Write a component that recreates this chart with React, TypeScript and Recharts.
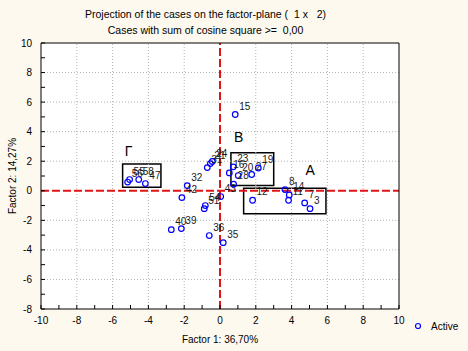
import {
  ScatterChart,
  Scatter,
  XAxis,
  YAxis,
  CartesianGrid,
  ReferenceLine,
  ReferenceArea,
  ReferenceDot,
} from "recharts";

// case numbers and their coordinates on the factor plane
const caseLabels = [
  "15", "24", "21", "31", "32", "42", "43", "54", "51", "40", "39", "36", "35",
  "56", "55", "58", "47",
  "23", "16", "20", "28", "27", "19",
  "12", "8", "14", "11", "7", "3",
];
const factor1 = [
  0.85, -0.43, -0.54, -0.71, -1.83, -2.13, 0.04, -0.82, -0.88, -2.72, -2.16, -0.6, 0.18,
  -5.16, -5.05, -4.54, -4.17,
  0.74, 0.52, 1.02, 0.76, 1.77, 2.14,
  1.82, 3.63, 3.87, 3.83, 4.73, 5.03,
];
const factor2 = [
  5.16, 1.98, 1.84, 1.57, 0.35, -0.46, -0.39, -1.0, -1.21, -2.63, -2.56, -3.03, -3.51,
  0.59, 0.76, 0.76, 0.49,
  1.62, 1.21, 1.03, 0.45, 1.1, 1.54,
  -0.64, 0.08, -0.28, -0.64, -0.82, -1.21,
];

// groups drawn as boxes: name, x range, y range, where the letter sits
const groupNames = ["Γ", "B", "A"];
const groupX = [[-5.44, -3.3], [0.61, 3.0], [1.32, 5.92]];
const groupY = [[0.24, 1.82], [0.35, 2.57], [-1.56, 0.17]];
const groupLetterAt = [[-5.11, 2.67], [1.04, 3.62], [5.04, 1.43]];

const xTicks = [-10, -9, -8, -7, -6, -5, -4, -3, -2, -1, 0, 1, 2, 3, 4, 5, 6, 7, 8, 9, 10];
const yTicks = [-8, -7, -6, -5, -4, -3, -2, -1, 0, 1, 2, 3, 4, 5, 6, 7, 8, 9, 10];
const xGrid = [-8, -6, -4, -2, 2, 4, 6, 8];
const yGrid = [-6, -4, -2, 2, 4, 6, 8];

const cases = caseLabels.map((name, i) => ({ name, x: factor1[i], y: factor2[i] }));

const FONT = '"Liberation Sans", Arial, sans-serif';
const BLUE = "#0000ff";

const CaseMark = (props: any) => {
  const { cx, cy, payload } = props;
  return (
    <g>
      <circle cx={cx} cy={cy} r={2.8} fill="none" stroke={BLUE} strokeWidth={1.2} />
      <text x={cx + 4} y={cy - 5} fontSize={10} fontFamily={FONT} fill="#1a1a1a">
        {payload.name}
      </text>
    </g>
  );
};

const evenOnly = (v: number) => (v % 2 === 0 ? String(v) : "");

export default function App() {
  return (
    <div
      style={{
        position: "absolute",
        left: 0,
        top: 0,
        width: 468,
        height: 351,
        background: "#fef9ee",
        fontFamily: FONT,
      }}
    >
      <div
        style={{
          position: "absolute",
          left: 0,
          width: 411,
          top: 6,
          textAlign: "center",
          fontSize: 10.5,
          lineHeight: "16px",
          whiteSpace: "pre",
        }}
      >
        {"Projection of the cases on the factor-plane (  1 x   2)\nCases with sum of cosine square >=  0,00"}
      </div>
      <ScatterChart
        width={468}
        height={351}
        margin={{ top: 42, right: 68, bottom: 12, left: 8 }}
      >
        <CartesianGrid fill="#ffffff" horizontal={false} vertical={false} />
        {xGrid.map((v) => (
          <ReferenceLine key={`gx${v}`} x={v} stroke="#b4b4b4" strokeDasharray="1 2" />
        ))}
        {yGrid.map((v) => (
          <ReferenceLine key={`gy${v}`} y={v} stroke="#b4b4b4" strokeDasharray="1 2" />
        ))}
        <XAxis
          type="number"
          dataKey="x"
          domain={[-10, 10]}
          ticks={xTicks}
          interval={0}
          tickFormatter={evenOnly}
          tickSize={-4}
          tickMargin={12}
          height={30}
          stroke="#000"
          tick={{ fill: "#000", fontSize: 10, fontFamily: FONT }}
          label={{
            value: "Factor 1: 36,70%",
            position: "insideBottom",
            offset: -4,
            fill: "#000",
            fontSize: 10,
            fontFamily: FONT,
          }}
        />
        <XAxis
          xAxisId="top"
          orientation="top"
          type="number"
          domain={[-10, 10]}
          ticks={xTicks}
          interval={0}
          tick={false}
          tickSize={-4}
          height={1}
          stroke="#000"
        />
        <YAxis
          type="number"
          dataKey="y"
          domain={[-8, 10]}
          ticks={yTicks}
          interval={0}
          tickFormatter={evenOnly}
          tickSize={-4}
          tickMargin={13}
          width={33}
          stroke="#000"
          tick={{ fill: "#000", fontSize: 10, fontFamily: FONT }}
          label={{
            value: "Factor 2: 14,27%",
            angle: -90,
            position: "insideLeft",
            offset: 4,
            fill: "#000",
            fontSize: 10,
            fontFamily: FONT,
            style: { textAnchor: "middle" },
          }}
        />
        <YAxis
          yAxisId="right"
          orientation="right"
          type="number"
          domain={[-8, 10]}
          ticks={yTicks}
          interval={0}
          tick={false}
          tickSize={-4}
          width={1}
          stroke="#000"
        />
        <ReferenceLine x={0} stroke="#e01515" strokeWidth={2} strokeDasharray="8 3" />
        <ReferenceLine y={0} stroke="#e01515" strokeWidth={2} strokeDasharray="8 3" />
        {groupNames.map((g, i) => (
          <ReferenceArea
            key={`box-${g}`}
            x1={groupX[i][0]}
            x2={groupX[i][1]}
            y1={groupY[i][0]}
            y2={groupY[i][1]}
            fill="none"
            fillOpacity={0}
            stroke="#000"
            strokeWidth={1.5}
          />
        ))}
        {groupNames.map((g, i) => (
          <ReferenceDot
            key={`letter-${g}`}
            x={groupLetterAt[i][0]}
            y={groupLetterAt[i][1]}
            r={0}
            stroke="none"
            label={{ value: g, position: "center", fontSize: 14, fill: "#000", fontFamily: FONT }}
          />
        ))}
        <Scatter name="Active" data={cases} shape={<CaseMark />} isAnimationActive={false} />
      </ScatterChart>
      <div
        style={{
          position: "absolute",
          left: 412,
          top: 320,
          display: "flex",
          alignItems: "center",
          fontSize: 10,
        }}
      >
        <svg width={12} height={12}>
          <circle cx={6} cy={6} r={2.5} fill="none" stroke={BLUE} strokeWidth={1.2} />
        </svg>
        <span style={{ marginLeft: 7 }}>Active</span>
      </div>
    </div>
  );
}
